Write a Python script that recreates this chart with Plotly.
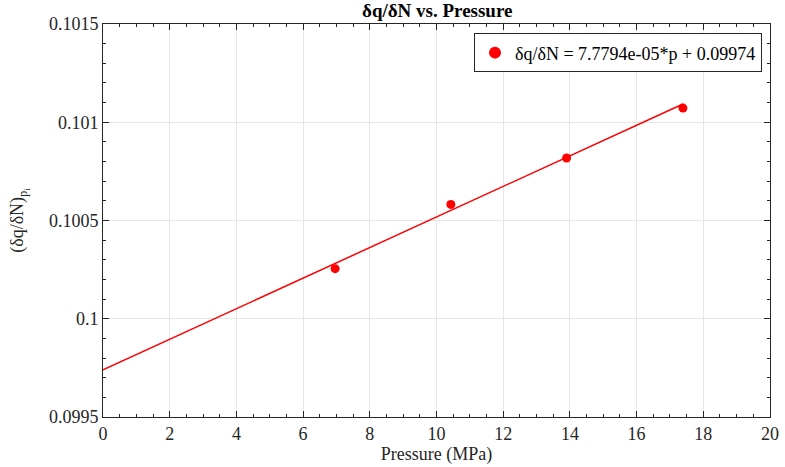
import plotly.graph_objects as go

pressure = [6.96, 10.43, 13.90, 17.39]
dqdn = [0.100255, 0.100582, 0.100818, 0.101072]
slope = 7.7794e-05
intercept = 0.09974
fit_x = [0, 17.39]
fit_y = [intercept + slope * p for p in fit_x]

x_ticks = list(range(0, 21, 2))
y_tickvals = [0.0995, 0.1, 0.1005, 0.101, 0.1015]
y_ticktext = ["0.0995", "0.1", "0.1005", "0.101", "0.1015"]

FONT = "Liberation Serif, Times New Roman, serif"
AX = "#262626"

fig = go.Figure()
fig.add_trace(go.Scatter(x=fit_x, y=fit_y, mode="lines",
                         line=dict(color="#ff0000", width=1.5), showlegend=False))
fig.add_trace(go.Scatter(x=pressure, y=dqdn, mode="markers",
                         marker=dict(color="#ff0000", size=9),
                         name="δq/δN = 7.7794e-05*p + 0.09974"))

axis_common = dict(
    showline=True, linecolor=AX, linewidth=1, mirror="allticks",
    ticks="inside", ticklen=6, tickcolor=AX,
    showgrid=True, gridcolor="#e6e6e6", gridwidth=1,
    zeroline=False, automargin=False,
    tickfont=dict(family=FONT, size=18, color=AX),
)

fig.update_layout(
    width=785, height=467,
    margin=dict(l=103, r=15, t=24, b=50, autoexpand=False),
    paper_bgcolor="white", plot_bgcolor="white",
    font=dict(family=FONT, color=AX),
    title=dict(text="<b>δq/δN vs. Pressure</b>", x=0.557, xanchor="center",
               y=0.978, yanchor="middle", font=dict(family=FONT, size=19, color="black")),
    xaxis=dict(range=[0, 20], tickvals=x_ticks,
               title=dict(text="Pressure (MPa)", font=dict(family=FONT, size=18, color=AX), standoff=4),
               minor=dict(dtick=0.5, ticks="inside", ticklen=3, tickcolor=AX, showgrid=False),
               **axis_common),
    yaxis=dict(range=[0.0995, 0.1015], tickvals=y_tickvals, ticktext=y_ticktext,
               title=dict(text="(δq/δN)<sub>p<sub>i</sub></sub>", font=dict(family=FONT, size=18, color=AX), standoff=20),
               minor=dict(dtick=0.0001, tick0=0.0995, ticks="inside", ticklen=3, tickcolor=AX, showgrid=False),
               **axis_common),
    legend=dict(x=0.988, y=0.976, xanchor="right", yanchor="top",
                bgcolor="white", bordercolor=AX, borderwidth=1,
                font=dict(family=FONT, size=18, color="black"),
                itemsizing="constant"),
)

fig.write_html("out.html")
